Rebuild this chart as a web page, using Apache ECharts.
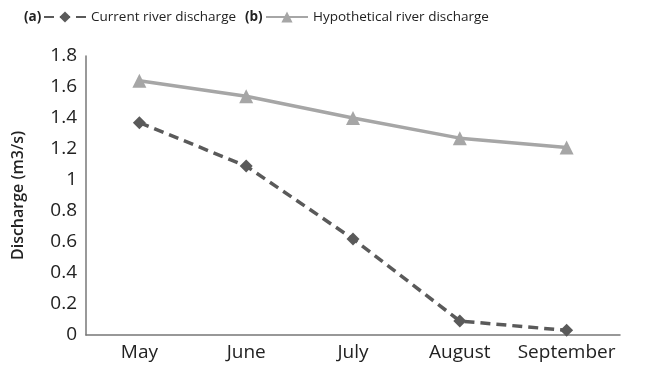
<!DOCTYPE html>
<html><head><meta charset="utf-8">
<script src="https://cdn.jsdelivr.net/npm/echarts@6/dist/echarts.min.js"></script>
<style>html,body{margin:0;padding:0;background:#fff}#c{width:646px;height:366px}</style>
</head><body><div id="c"></div>
<script>
const months = ['May', 'June', 'July', 'August', 'September'];
const currentDischarge = [1.37, 1.09, 0.62, 0.09, 0.03];
const hypotheticalDischarge = [1.64, 1.54, 1.40, 1.27, 1.21];
const yTicks = { min: 0, max: 1.8, interval: 0.2 };

const FONT = 'Open Sans';
const chart = echarts.init(document.getElementById('c'), null, { renderer: 'canvas' });
chart.setOption({
  animation: false,
  backgroundColor: '#fff',
  textStyle: { fontFamily: FONT },
  graphic: [
    { type: 'text', x: 24, y: 17, style: { text: '(a)', fontFamily: FONT, fontSize: 13.5, fontWeight: 'bold', fill: '#222', verticalAlign: 'middle' } },
    { type: 'text', x: 245, y: 17, style: { text: '(b)', fontFamily: FONT, fontSize: 13.5, fontWeight: 'bold', fill: '#222', verticalAlign: 'middle' } }
  ],
  legend: [
    { data: ['Current river discharge'], left: 43, top: 10, itemWidth: 42, itemHeight: 14, padding: 0,
      textStyle: { fontFamily: FONT, fontSize: 13.5, color: '#222' } },
    { data: ['Hypothetical river discharge'], left: 265, top: 10, itemWidth: 42, itemHeight: 14, padding: 0,
      textStyle: { fontFamily: FONT, fontSize: 13.5, color: '#222' } }
  ],
  grid: { left: 86, right: 26, top: 56, bottom: 31 },
  xAxis: {
    type: 'category', data: months, boundaryGap: true,
    axisLine: { lineStyle: { color: '#777', width: 1.5 } },
    axisTick: { show: false },
    axisLabel: { fontFamily: FONT, fontSize: 19, color: '#222', margin: 8, interval: 0 }
  },
  yAxis: {
    type: 'value', min: yTicks.min, max: yTicks.max, interval: yTicks.interval,
    name: 'Discharge (m3/s)', nameLocation: 'middle', nameGap: 60,
    nameTextStyle: { fontFamily: FONT, fontSize: 16, fontWeight: 600, color: '#222' },
    axisLine: { show: true, lineStyle: { color: '#777', width: 1.5 } },
    axisTick: { show: false },
    splitLine: { show: false },
    axisLabel: { fontFamily: FONT, fontSize: 19, color: '#222', margin: 9,
      formatter: v => String(Math.round(v * 10) / 10) }
  },
  series: [
    { name: 'Current river discharge', type: 'line', data: currentDischarge,
      symbol: 'diamond', symbolSize: 13,
      lineStyle: { color: '#5a5a5a', width: 3.5, type: [10, 6] },
      itemStyle: { color: '#5a5a5a' } },
    { name: 'Hypothetical river discharge', type: 'line', data: hypotheticalDischarge,
      symbol: 'triangle', symbolSize: 14,
      lineStyle: { color: '#a6a6a6', width: 3.5 },
      itemStyle: { color: '#a6a6a6' } }
  ]
});
</script></body></html>
